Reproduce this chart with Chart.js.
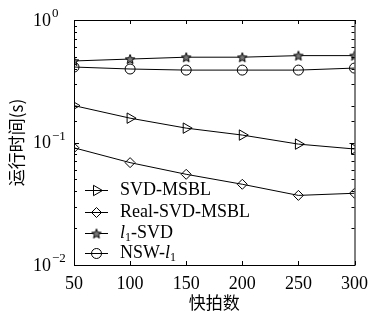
<!DOCTYPE html>
<html>
<head>
<meta charset="utf-8">
<script src="https://cdn.jsdelivr.net/npm/chart.js@4.4.0/dist/chart.umd.min.js"></script>
<style>
  html, body { margin: 0; padding: 0; background: #fff; }
  #wrap { width: 376px; height: 323px; }
</style>
</head>
<body>
<div id="wrap"><canvas id="c"></canvas></div>
<script>
// snapshots and run times (s)
const snapshots = [50, 100, 150, 200, 250, 300];
const svdMsbl = [0.200, 0.158, 0.131, 0.115, 0.097, 0.0885];
const realSvdMsbl = [0.0905, 0.0685, 0.055, 0.0456, 0.037, 0.0385];
const l1Svd = [0.463, 0.48, 0.497, 0.497, 0.512, 0.512];
const nswL1 = [0.413, 0.398, 0.39, 0.39, 0.39, 0.405];
const yTickExp = { 1: '0', 0.1: '−1', 0.01: '−2' };
const xTitle = '快拍数';
const yTitle = '运行时间(s)';

const serif = '"Liberation Serif", "DejaVu Serif", serif';
const cjk = '"Noto Sans CJK SC", sans-serif';

// small five point star used as a marker
function makeStar() {
    const cv = document.createElement('canvas');
    cv.width = 12; cv.height = 12;
    const g = cv.getContext('2d');
    g.beginPath();
    for (let i = 0; i < 10; i++) {
        const r = i % 2 === 0 ? 5 : 2.2;
        const a = -Math.PI / 2 + i * Math.PI / 5;
        const px = 6 + r * Math.cos(a), py = 6.5 + r * Math.sin(a);
        i === 0 ? g.moveTo(px, py) : g.lineTo(px, py);
    }
    g.closePath();
    g.fillStyle = '#777';
    g.fill();
    g.strokeStyle = '#000';
    g.lineWidth = 1;
    g.stroke();
    return cv;
}
const star = makeStar();

function toPoints(arr) {
    return snapshots.map((x, i) => ({ x: x, y: arr[i] }));
}

function series(label, arr, style, radius, rotation) {
    return {
        label: label,
        data: toPoints(arr),
        borderColor: '#000',
        backgroundColor: 'rgba(0,0,0,0)',
        borderWidth: 1,
        pointStyle: style,
        pointRadius: radius,
        pointRotation: rotation || 0,
        pointBorderColor: '#000',
        pointBorderWidth: 1,
        tension: 0
    };
}

// frame with inward ticks, plus 10^n labels with a real superscript
const framePlugin = {
    id: 'frame',
    afterDraw(chart) {
        const ctx = chart.ctx;
        const a = chart.chartArea;
        const xs = chart.scales.x, ys = chart.scales.y;
        ctx.save();
        ctx.strokeStyle = '#000';
        ctx.lineWidth = 1;
        ctx.strokeRect(a.left + 0.5, a.top + 0.5, a.right - a.left, a.bottom - a.top);
        ctx.beginPath();
        xs.ticks.forEach(t => {
            const px = Math.round(xs.getPixelForValue(t.value)) + 0.5;
            ctx.moveTo(px, a.bottom); ctx.lineTo(px, a.bottom - 4);
            ctx.moveTo(px, a.top); ctx.lineTo(px, a.top + 4);
        });
        ys.ticks.forEach(t => {
            const py = Math.round(ys.getPixelForValue(t.value)) + 0.5;
            const len = yTickExp[t.value] ? 5 : 3;
            ctx.moveTo(a.left, py); ctx.lineTo(a.left + len, py);
            ctx.moveTo(a.right, py); ctx.lineTo(a.right - len, py);
        });
        ctx.stroke();

        ctx.fillStyle = '#000';
        ctx.textBaseline = 'middle';
        ys.ticks.forEach(t => {
            const exp = yTickExp[t.value];
            if (!exp) return;
            const py = ys.getPixelForValue(t.value);
            ctx.font = '18px ' + serif;
            ctx.fillText('10', 33, py + 1);
            const w = ctx.measureText('10').width;
            ctx.font = '13px ' + serif;
            ctx.fillText(exp, 33 + w + 1, py - 6);
        });
        ctx.restore();
    }
};

// legend drawn inside the lower left of the plot
const legendPlugin = {
    id: 'innerLegend',
    afterDatasetsDraw(chart) {
        const ctx = chart.ctx;
        const rows = [190, 212, 233, 253];
        ctx.save();
        ctx.textBaseline = 'middle';
        chart.data.datasets.forEach((ds, i) => {
            const y = rows[i] + 0.5;
            ctx.strokeStyle = '#000';
            ctx.lineWidth = 1;
            ctx.beginPath();
            ctx.moveTo(85, y); ctx.lineTo(108, y);
            ctx.stroke();
            ctx.fillStyle = 'rgba(0,0,0,0)';
            Chart.helpers.drawPoint(ctx, {
                pointStyle: ds.pointStyle, rotation: ds.pointRotation,
                radius: ds.pointRadius, borderWidth: 1
            }, 96.5, y);
            ctx.fillStyle = '#000';
            let x = 120;
            ds.legendParts.forEach(p => {
                ctx.font = p.font;
                ctx.fillText(p.text, x, y + (p.dy || 0));
                x += ctx.measureText(p.text).width;
            });
        });
        ctx.restore();
    }
};

const dsSvd = series('SVD-MSBL', svdMsbl, 'triangle', 6, 90);
dsSvd.legendParts = [{ text: 'SVD-MSBL', font: '18px ' + serif }];
const dsReal = series('Real-SVD-MSBL', realSvdMsbl, 'rectRot', 5);
dsReal.legendParts = [{ text: 'Real-SVD-MSBL', font: '18px ' + serif }];
const dsL1 = series('l1-SVD', l1Svd, star, 6);
dsL1.legendParts = [
    { text: 'l', font: 'italic 18px ' + serif },
    { text: '1', font: '12px ' + serif, dy: 4 },
    { text: '-SVD', font: '18px ' + serif }
];
const dsNsw = series('NSW-l1', nswL1, 'circle', 5);
dsNsw.legendParts = [
    { text: 'NSW-', font: '18px ' + serif },
    { text: 'l', font: 'italic 18px ' + serif },
    { text: '1', font: '12px ' + serif, dy: 4 }
];

new Chart(document.getElementById('c'), {
    type: 'line',
    data: { datasets: [dsSvd, dsReal, dsL1, dsNsw] },
    options: {
        responsive: true,
        maintainAspectRatio: false,
        animation: false,
        layout: { padding: { top: 20, right: 14, left: 0, bottom: 0 } },
        plugins: { legend: { display: false }, tooltip: { enabled: false } },
        scales: {
            x: {
                type: 'linear',
                min: 50, max: 300,
                grid: { display: false, drawTicks: false },
                border: { display: false },
                ticks: { stepSize: 50, padding: 8, color: '#000', font: { family: serif, size: 18 } },
                title: { display: true, text: xTitle, color: '#000', font: { family: cjk, size: 17 }, padding: { top: 0, bottom: 10 } },
                afterFit(s) { s.height = 58; }
            },
            y: {
                type: 'logarithmic',
                min: 0.01, max: 1,
                grid: { display: false, drawTicks: false },
                border: { display: false },
                ticks: { display: false },
                title: { display: true, text: yTitle, color: '#000', font: { family: cjk, size: 17 }, padding: { top: 6, bottom: 0 } },
                afterFit(s) { s.width = 74; }
            }
        }
    },
    plugins: [framePlugin, legendPlugin]
});
</script>
</body>
</html>
